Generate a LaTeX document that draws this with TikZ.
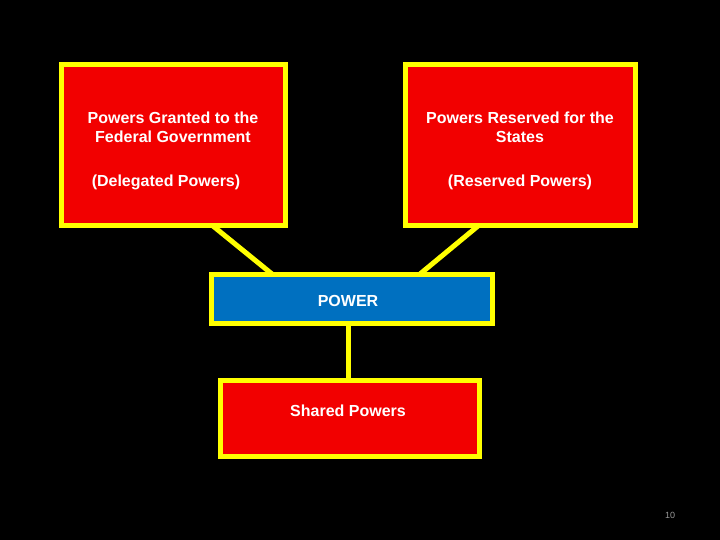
\documentclass[tikz,border=0pt]{standalone}
\usepackage{fontspec}
\setmainfont{Liberation Sans}
\definecolor{bred}{HTML}{F20000}
\definecolor{byel}{HTML}{FFFF00}
\definecolor{bblue}{HTML}{0070C0}
\begin{document}
\begin{tikzpicture}[x=1pt,y=-1pt,
  box/.style={draw=byel,line width=5pt,fill=bred},
  conn/.style={draw=byel,line width=5pt},
  lbl/.style={text=white,font=\fontsize{16}{19}\selectfont\bfseries,align=center,inner sep=0pt}]
\fill[black] (0,0) rectangle (720,540);
\useasboundingbox (0,0) rectangle (720,540);
\draw[conn] (213,226) coordinate (la) -- (272,274) coordinate (lb);
\draw[conn] (478,226) coordinate (ra) -- (420,274) coordinate (rb);
\draw[conn] (348,323) coordinate (ma) -- (348,380) coordinate (mb);
\draw[box] (61,65) rectangle (285,226);
\draw[box] (405,65) rectangle (635,226);
\draw[box,fill=bblue] (211,274) rectangle (492,323);
\draw[box] (220,380) rectangle (479,456);
\node[lbl] (lt) at (173,127) {Powers Granted to the\\Federal Government};
\node[lbl] (ld) at (166,182) {(Delegated Powers)};
\node[lbl] (rt) at (520,127) {Powers Reserved for the\\States};
\node[lbl] (rd) at (520,182) {(Reserved Powers)};
\node[lbl] (pw) at (348,301) {POWER};
\node[lbl] (sp) at (348,411) {Shared Powers};
\node[text=gray!80,font=\fontsize{9}{11}\selectfont,inner sep=0pt] (pg) at (670,515) {10};
\end{tikzpicture}
\end{document}
